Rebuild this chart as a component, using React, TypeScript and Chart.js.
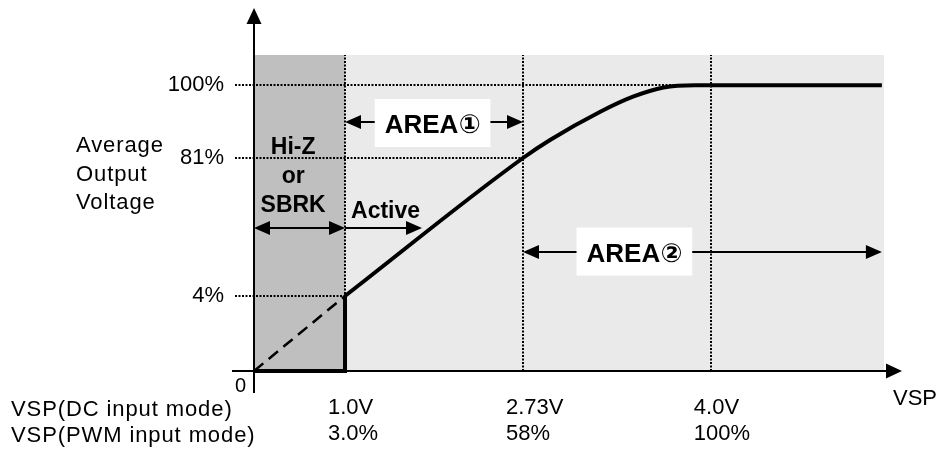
import React, { useEffect, useRef } from 'react';
import { Chart, registerables } from 'chart.js';

Chart.register(...registerables);

// Schematic axis: values are division positions.
const xTickPositions = [1, 2.956, 5.02];
const xTickLabelsDC = ['1.0V', '2.73V', '4.0V'];
const xTickLabelsPWM = ['3.0%', '58%', '100%'];
const yTickPositions = [1, 2.84, 3.81];
const yTickLabels = ['4%', '81%', '100%'];

// Output characteristic (solid curve)
const curveX = [1, 2.956, 3.253, 3.8, 4.165, 4.5, 4.85, 5.02, 6.9];
const curveY = [1, 2.84, 3.08, 3.453, 3.657, 3.78, 3.81, 3.81, 3.81];
// Extrapolated part below 1.0V (dashed)
const dashX = [0, 1];
const dashY = [0, 1];
// Output off (Hi-Z / SBRK) step
const offX = [0, 1, 1];
const offY = [0, 0, 1];
// Shaded regions: [x start, x end]
const regionDark = [0, 1];
const regionLight = [1, 6.92];
const regionTop = 4.213;

const FONT = '"Liberation Sans", Arial, "DejaVu Sans", "Noto Sans CJK JP", sans-serif';

function head(ctx: CanvasRenderingContext2D, tx: number, ty: number, dx: number, dy: number, len: number, half: number) {
  const bx = tx - dx * len;
  const by = ty - dy * len;
  ctx.beginPath();
  ctx.moveTo(tx, ty);
  ctx.lineTo(bx - dy * half, by + dx * half);
  ctx.lineTo(bx + dy * half, by - dx * half);
  ctx.closePath();
  ctx.fill();
}

function hArrow(ctx: CanvasRenderingContext2D, x1: number, x2: number, y: number, startHead: boolean, endHead: boolean) {
  const len = 16;
  const half = 7;
  y = Math.round(y);
  ctx.lineWidth = 2;
  ctx.setLineDash([]);
  ctx.beginPath();
  ctx.moveTo(x1 + (startHead ? len - 2 : 0), y);
  ctx.lineTo(x2 - (endHead ? len - 2 : 0), y);
  ctx.stroke();
  if (startHead) head(ctx, x1, y, -1, 0, len, half);
  if (endHead) head(ctx, x2, y, 1, 0, len, half);
}

const drawPlugin = {
  id: 'schematic',
  beforeDatasetsDraw(chart: any) {
    const ctx: CanvasRenderingContext2D = chart.ctx;
    const xs = chart.scales.x;
    const ys = chart.scales.y;
    const px = (v: number) => Math.round(xs.getPixelForValue(v));
    const py = (v: number) => Math.round(ys.getPixelForValue(v));
    ctx.save();
    // shaded regions
    ctx.fillStyle = '#bfbfbf';
    ctx.fillRect(px(regionDark[0]), py(regionTop), px(regionDark[1]) - px(regionDark[0]), py(0) - py(regionTop));
    ctx.fillStyle = '#eaeaea';
    ctx.fillRect(px(regionLight[0]), py(regionTop), px(regionLight[1]) - px(regionLight[0]), py(0) - py(regionTop));
    // dotted guides
    ctx.strokeStyle = '#000';
    ctx.lineWidth = 2;
    ctx.setLineDash([2, 1.5]);
    xTickPositions.forEach((xv, i) => {
      ctx.beginPath();
      ctx.moveTo(px(xv), py(0));
      ctx.lineTo(px(xv), py(regionTop));
      ctx.stroke();
      ctx.beginPath();
      ctx.moveTo(px(-0.21), py(yTickPositions[i]));
      ctx.lineTo(px(xv), py(yTickPositions[i]));
      ctx.stroke();
    });
    // axes with arrows
    ctx.setLineDash([]);
    ctx.fillStyle = '#000';
    ctx.lineWidth = 2;
    const y0 = py(0);
    const x0 = px(0);
    ctx.beginPath();
    ctx.moveTo(xs.left, y0);
    ctx.lineTo(xs.right - 14, y0);
    ctx.stroke();
    head(ctx, xs.right, y0, 1, 0, 16, 7.5);
    ctx.beginPath();
    ctx.moveTo(x0, y0 + 22);
    ctx.lineTo(x0, ys.top + 14);
    ctx.stroke();
    head(ctx, x0, ys.top, 0, -1, 16, 7.5);
    ctx.restore();
  },
  afterDatasetsDraw(chart: any) {
    const ctx: CanvasRenderingContext2D = chart.ctx;
    const xs = chart.scales.x;
    const ys = chart.scales.y;
    const px = (v: number) => xs.getPixelForValue(v);
    const py = (v: number) => ys.getPixelForValue(v);
    ctx.save();
    ctx.fillStyle = '#000';
    ctx.strokeStyle = '#000';

    // range arrows
    hArrow(ctx, px(0), px(1), py(1.907), true, true);
    hArrow(ctx, px(1), px(1.846), py(1.907), false, true);
    hArrow(ctx, px(1), px(2.956), py(3.32), true, true);
    hArrow(ctx, px(2.956), px(6.9), py(1.587), true, true);

    // boxed labels
    const boxLabel = (text: string, cx: number, cy: number) => {
      ctx.font = `bold 26px ${FONT}`;
      const w = ctx.measureText(text).width + 20;
      const h = 48;
      ctx.fillStyle = '#fff';
      ctx.fillRect(cx - w / 2, cy - h / 2, w, h);
      ctx.fillStyle = '#000';
      ctx.textAlign = 'center';
      ctx.textBaseline = 'alphabetic';
      ctx.fillText(text, cx, cy + 10);
    };
    boxLabel('AREA①', px(1.962), py(3.307));
    boxLabel('AREA②', px(4.18), py(1.593));

    // region labels
    ctx.font = `bold 23px ${FONT}`;
    ctx.textAlign = 'center';
    ctx.textBaseline = 'alphabetic';
    ctx.fillText('Hi-Z', px(0.43), py(2.893));
    ctx.fillText('or', px(0.43), py(2.507));
    ctx.fillText('SBRK', px(0.43), py(2.12));
    ctx.textAlign = 'left';
    ctx.fillText('Active', px(1.066), py(2.04));

    // plain texts
    ctx.font = `22px ${FONT}`;
    (ctx as any).letterSpacing = '0.9px';
    ctx.textAlign = 'left';
    ctx.fillText('Average', 76, 152);
    ctx.fillText('Output', 76, 180.5);
    ctx.fillText('Voltage', 76, 209);
    const b = chart.chartArea.bottom;
    ctx.fillText('VSP(DC input mode)', 11, b + 45);
    ctx.fillText('VSP(PWM input mode)', 11, b + 71);
    (ctx as any).letterSpacing = '0px';
    ctx.fillText('VSP', xs.right - 9, b + 34);
    ctx.font = `20px ${FONT}`;
    ctx.textAlign = 'right';
    ctx.fillText('0', px(0) - 8, b + 21);
    ctx.restore();
  },
};

export default function App() {
  const ref = useRef<HTMLCanvasElement | null>(null);
  useEffect(() => {
    if (!ref.current) return;
    const chart = new Chart(ref.current, {
      type: 'line',
      data: {
        datasets: [
          {
            label: 'Output',
            data: curveX.map((x, i) => ({ x, y: curveY[i] })),
            borderColor: '#000',
            borderWidth: 4,
            pointRadius: 0,
            cubicInterpolationMode: 'monotone',
            fill: false,
            clip: false,
          } as any,
          {
            label: 'Extrapolation',
            data: dashX.map((x, i) => ({ x, y: dashY[i] })),
            borderColor: '#000',
            borderWidth: 2.5,
            borderDash: [12, 7],
            pointRadius: 0,
            tension: 0,
            fill: false,
            clip: false,
          } as any,
          {
            label: 'Off',
            data: offX.map((x, i) => ({ x, y: offY[i] })),
            borderColor: '#000',
            borderWidth: 4,
            pointRadius: 0,
            tension: 0,
            fill: false,
            clip: false,
          } as any,
        ],
      },
      options: {
        animation: false,
        responsive: false,
        devicePixelRatio: 1,
        layout: { padding: { left: 0, right: 41, top: 8, bottom: 0 } },
        plugins: { legend: { display: false }, tooltip: { enabled: false } },
        scales: {
          x: {
            type: 'linear',
            position: 'bottom',
            min: -0.242,
            max: 7.121,
            afterFit: (s: any) => { s.height = 84; s.paddingLeft = 0; s.paddingRight = 0; },
            afterBuildTicks: (s: any) => { s.ticks = xTickPositions.map((v) => ({ value: v })); },
            grid: { display: false, drawTicks: false },
            border: { display: false },
            ticks: {
              autoSkip: false,
              maxRotation: 0,
              align: 'start',
              labelOffset: -17,
              padding: 24,
              color: '#000',
              font: { family: FONT, size: 22, lineHeight: 26 / 22 },
              callback: (_v: any, i: number) => [xTickLabelsDC[i], xTickLabelsPWM[i]],
            },
          },
          y: {
            type: 'linear',
            position: 'left',
            min: 0,
            max: 4.84,
            afterFit: (s: any) => { s.width = 232; s.paddingTop = 0; s.paddingBottom = 0; },
            afterBuildTicks: (s: any) => { s.ticks = yTickPositions.map((v) => ({ value: v })); },
            grid: { display: false, drawTicks: false },
            border: { display: false },
            ticks: {
              autoSkip: false,
              padding: 8,
              color: '#000',
              font: { family: FONT, size: 22 },
              callback: (_v: any, i: number) => yTickLabels[i],
            },
          },
        },
      } as any,
      plugins: [drawPlugin],
    });
    return () => chart.destroy();
  }, []);
  return (
    <div style={{ position: 'fixed', left: 0, top: 0, width: 943, height: 455, background: '#fff' }}>
      <canvas ref={ref} width={943} height={455} style={{ display: 'block' }} />
    </div>
  );
}
